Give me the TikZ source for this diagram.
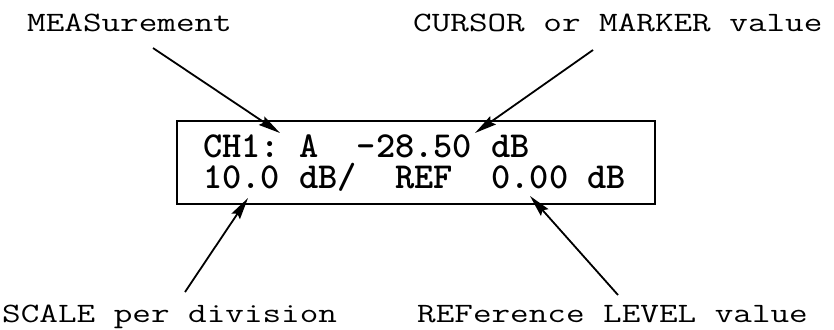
\documentclass[tikz,border=0pt]{standalone}
\usetikzlibrary{arrows.meta}
\tikzset{
  lbl/.style={anchor=base west, inner sep=0pt, font=\ttfamily\fontsize{28}{30}\selectfont},
  disp/.style={anchor=base west, inner sep=0pt, align=left, font=\ttfamily\bfseries\fontsize{36.6}{31}\selectfont},
  pointer/.style={line width=1.8pt, -{Stealth[length=22pt,width=10pt,inset=3pt]}},
  panel/.style={draw, line width=2pt, minimum width=478pt, minimum height=83pt, anchor=north west, inner sep=0pt}
}
\newcommand{\lblx}[1]{\scalebox{1.29}[1]{#1}}
\begin{document}
\begin{tikzpicture}[x=1pt,y=-1pt]
\useasboundingbox (0,0) rectangle (834,329);
\node[panel] (box) at (176,120) {};
\node[disp] (txt) at (203,188) {CH1:~A~~-28.50~dB\\10.0~dB/~~REF~~0.00~dB};
\node[lbl] (meas) at (27,32) {\lblx{MEASurement}};
\node[lbl] (curs) at (413,32) {\lblx{CURSOR~or~MARKER~value}};
\node[lbl] (scale) at (2,322) {\lblx{SCALE~per~division}};
\node[lbl] (ref) at (417,322) {\lblx{REFerence~LEVEL~value}};
\coordinate (measT) at (153,48);
\coordinate (measH) at (280,133);
\coordinate (cursT) at (593,50);
\coordinate (cursH) at (475,133);
\coordinate (scaleT) at (185,292);
\coordinate (scaleH) at (248,198);
\coordinate (refT) at (618,295);
\coordinate (refH) at (530,196);
\draw[pointer] (measT) -- (measH);
\draw[pointer] (cursT) -- (cursH);
\draw[pointer] (scaleT) -- (scaleH);
\draw[pointer] (refT) -- (refH);
\end{tikzpicture}
\end{document}
